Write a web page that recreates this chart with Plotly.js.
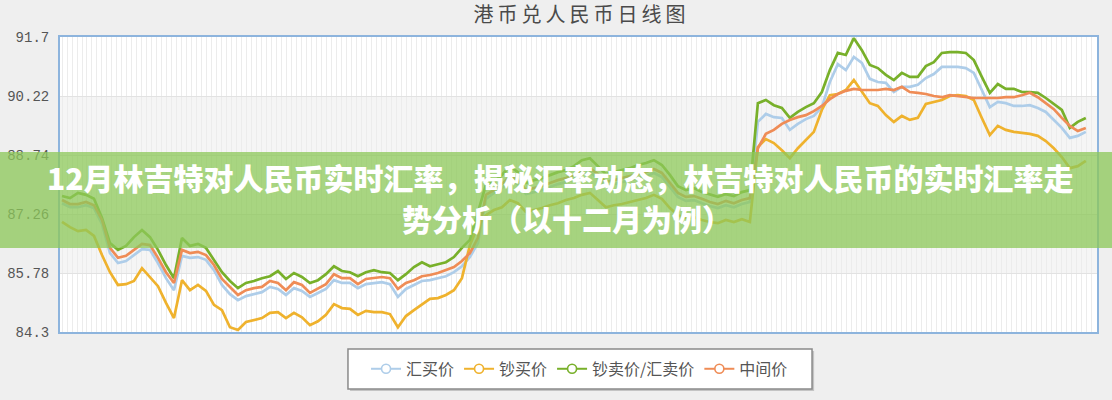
<!DOCTYPE html>
<html>
<head>
<meta charset="utf-8">
<script src="https://cdn.plot.ly/plotly-3.0.1.min.js"></script>
<style>
  html, body { margin: 0; padding: 0; background: #efefef; }
  #chart { width: 1112px; height: 400px; }
  #chart .gtitle { letter-spacing: 4px; }
</style>
</head>
<body>
<div id="chart"></div>
<script>
// ---- data (HKD -> CNY daily, per 100 HKD) ----
const chartTitle = "港币兑人民币日线图";
const seriesNames = ["汇买价", "钞买价", "钞卖价/汇卖价", "中间价"];
const yTicks = [84.3, 85.78, 87.26, 88.74, 90.22, 91.7];
const yTickLabels = ["84.3", "85.78", "87.26", "88.74", "90.22", "91.7"];
const bannerLine1 = "12月林吉特对人民币实时汇率，揭秘汇率动态，林吉特对人民币的实时汇率走";
const bannerLine2 = "势分析（以十二月为例）";

const huiBuy = [
 87.53,87.43,87.43,87.48,87.41,87.01,86.28,86.03,86.08,86.23,
 86.38,86.36,86.03,85.65,85.35,86.21,86.16,86.18,86.11,85.85,
 85.48,85.25,85.10,85.20,85.25,85.30,85.43,85.38,85.23,85.40,
 85.33,85.18,85.28,85.38,85.60,85.53,85.53,85.40,85.50,85.53,
 85.55,85.50,85.18,85.38,85.48,85.58,85.60,85.65,85.70,85.80,
 85.95,86.18,86.53,87.64,87.79,87.91,88.11,88.01,87.76,87.81,
 87.86,87.94,88.01,88.06,88.14,88.26,88.31,88.16,87.96,88.01,
 88.06,88.11,88.16,88.21,88.29,88.19,87.94,87.69,87.59,87.61,
 87.53,87.46,87.41,87.48,87.43,87.51,87.56,89.57,89.77,89.69,
 89.67,89.37,89.52,89.64,89.72,89.94,90.57,91.02,90.87,91.20,
 91.05,90.65,90.57,90.55,90.32,90.45,90.45,90.50,90.67,90.77,
 90.95,90.95,90.95,90.92,90.80,90.37,89.94,90.07,90.04,89.97,
 89.97,89.99,89.92,89.82,89.62,89.42,89.17,89.22,89.32];

const chaoBuy = [
 87.06,86.93,86.83,86.86,86.71,86.23,85.80,85.48,85.50,85.58,
 85.90,85.68,85.45,85.03,84.65,85.60,85.35,85.48,85.33,84.98,
 84.85,84.42,84.35,84.55,84.60,84.65,84.78,84.80,84.65,84.78,
 84.67,84.47,84.57,84.73,85.00,84.90,84.88,84.73,84.83,84.80,
 84.80,84.75,84.42,84.70,84.85,84.98,85.13,85.15,85.23,85.35,
 85.65,86.48,86.96,87.23,87.36,87.43,87.61,87.53,87.31,87.36,
 87.41,87.48,87.53,87.61,87.66,87.74,87.79,87.61,87.43,87.48,
 87.51,87.56,87.61,87.66,87.74,87.64,87.41,87.23,87.16,87.18,
 87.11,87.06,87.03,87.11,87.06,87.13,87.06,88.94,89.14,89.04,
 88.86,88.66,88.91,89.12,89.32,89.87,90.24,90.27,90.37,90.62,
 90.32,90.04,89.97,89.74,89.57,89.72,89.62,89.67,90.02,90.07,
 90.12,90.22,90.24,90.22,90.12,89.67,89.24,89.47,89.37,89.32,
 89.29,89.27,89.22,89.09,88.91,88.69,88.41,88.46,88.59];

const sell = [
 87.71,87.66,87.79,87.74,87.64,87.16,86.53,86.36,86.46,86.68,
 86.86,86.68,86.36,85.98,85.65,86.66,86.46,86.51,86.41,86.11,
 85.80,85.58,85.40,85.53,85.58,85.65,85.70,85.83,85.63,85.78,
 85.68,85.53,85.60,85.75,85.95,85.83,85.80,85.70,85.80,85.85,
 85.80,85.78,85.60,85.75,85.93,86.05,85.95,86.00,86.05,86.18,
 86.41,86.61,87.28,87.99,88.06,88.24,88.46,88.31,88.04,88.11,
 88.16,88.24,88.31,88.36,88.46,88.61,88.66,88.46,88.26,88.31,
 88.36,88.41,88.49,88.54,88.61,88.49,88.24,87.96,87.86,87.91,
 87.81,87.74,87.69,87.76,87.71,87.81,87.86,90.04,90.12,89.99,
 89.92,89.67,89.82,89.94,90.04,90.32,90.87,91.30,91.25,91.67,
 91.37,91.00,90.92,90.75,90.62,90.80,90.70,90.70,90.97,91.07,
 91.30,91.32,91.32,91.30,91.12,90.70,90.30,90.52,90.40,90.40,
 90.32,90.32,90.30,90.17,90.02,89.87,89.42,89.57,89.67];

const middle = [
 87.61,87.51,87.51,87.56,87.48,87.11,86.41,86.16,86.21,86.36,
 86.51,86.48,86.16,85.80,85.53,86.36,86.28,86.31,86.23,85.98,
 85.63,85.43,85.23,85.35,85.40,85.43,85.58,85.53,85.35,85.55,
 85.48,85.28,85.40,85.50,85.75,85.65,85.65,85.50,85.63,85.65,
 85.68,85.65,85.38,85.53,85.60,85.70,85.73,85.78,85.85,85.93,
 86.08,86.28,86.66,87.74,87.86,88.01,88.21,88.11,87.86,87.91,
 87.96,88.04,88.11,88.16,88.24,88.36,88.41,88.26,88.06,88.11,
 88.16,88.21,88.26,88.31,88.39,88.29,88.04,87.79,87.69,87.71,
 87.64,87.56,87.51,87.59,87.53,87.61,87.66,88.91,89.27,89.37,
 89.52,89.62,89.69,89.74,89.84,89.97,90.14,90.27,90.35,90.40,
 90.37,90.37,90.37,90.40,90.37,90.45,90.32,90.30,90.27,90.22,
 90.19,90.24,90.22,90.19,90.17,90.17,90.17,90.17,90.19,90.19,
 90.24,90.30,90.19,90.04,89.89,89.67,89.47,89.34,89.42];

const days = huiBuy.map((_, i) => i);
const seriesData = [huiBuy, chaoBuy, sell, middle];
const colors = ["#aecde9", "#efb22d", "#78b02a", "#ef8c56"];

const traces = [];
seriesData.forEach((ys, k) => {
  traces.push({
    x: days, y: ys, type: "scatter", mode: "lines",
    name: seriesNames[k], showlegend: false, hoverinfo: "skip",
    line: { color: colors[k], width: 2.7 }
  });
});
// legend entries (white-filled markers like the original)
seriesNames.forEach((n, k) => {
  traces.push({
    x: [null], y: [null], type: "scatter", mode: "lines+markers",
    name: n, showlegend: true,
    line: { color: colors[k], width: 2 },
    marker: { symbol: "circle", size: 9, color: "#ffffff", line: { color: colors[k], width: 1.6 } }
  });
});

const bandColor = "#f5f5f5";
const layout = {
  width: 1112, height: 400, autosize: false,
  margin: { l: 60, r: 15, t: 37, b: 68 },
  paper_bgcolor: "#efefef",
  plot_bgcolor: "#ffffff",
  font: { family: "Noto Sans CJK SC, sans-serif", color: "#555" },
  title: {
    text: chartTitle, xref: "paper", x: 0.503, xanchor: "center",
    yref: "container", y: 0.962, yanchor: "middle",
    font: { size: 20, color: "#4a4a4a", family: "Noto Sans CJK SC, sans-serif" }
  },
  xaxis: {
    range: [-0.25, 129.4], showticklabels: false, ticks: "",
    tick0: 0, dtick: 0.625, showgrid: true, gridcolor: "#ececec", gridwidth: 1,
    zeroline: false, showline: true, mirror: true, linecolor: "#8db4dd", linewidth: 2
  },
  yaxis: {
    range: [84.3, 91.7], tickvals: yTicks, ticktext: yTickLabels, ticks: "",
    ticklabelstandoff: 6,
    tickfont: { family: "Liberation Mono, DejaVu Sans Mono, monospace", size: 14, color: "#555" },
    showgrid: true, gridcolor: "#e2e2e2", gridwidth: 1,
    zeroline: false, showline: true, mirror: true, linecolor: "#8db4dd", linewidth: 2
  },
  shapes: [
    { type: "rect", xref: "paper", yref: "y", x0: 0, x1: 1, y0: yTicks[3], y1: yTicks[4],
      fillcolor: bandColor, line: { width: 0 }, layer: "below" },
    { type: "rect", xref: "paper", yref: "y", x0: 0, x1: 1, y0: yTicks[1], y1: yTicks[2],
      fillcolor: bandColor, line: { width: 0 }, layer: "below" },
    // banner overlay
    { type: "rect", xref: "paper", yref: "paper", x0: -0.06, x1: 1.02, y0: 0.285, y1: 0.61,
      fillcolor: "rgba(140,200,90,0.76)", line: { width: 0 }, layer: "above" },
    // legend box shadow + box
    { type: "rect", xref: "paper", yref: "paper", x0: 0.2797, x1: 0.7272, y0: -0.1999, y1: -0.0643,
      fillcolor: "rgba(0,0,0,0.18)", line: { width: 0 }, layer: "above" },
    { type: "rect", xref: "paper", yref: "paper", x0: 0.2777, x1: 0.7252, y0: -0.1932, y1: -0.0576,
      fillcolor: "#ffffff", line: { width: 1.5, color: "#8a8a8a" }, layer: "above" }
  ],
  annotations: [
    { text: bannerLine1, xref: "paper", yref: "paper", x: -0.0145, y: 0.525,
      xanchor: "left", align: "left", yanchor: "middle", showarrow: false,
      font: { size: 30, color: "#ffffff", family: "Noto Sans CJK SC, sans-serif", weight: 900 } },
    { text: bannerLine2, xref: "paper", yref: "paper", x: 0.328, y: 0.385,
      xanchor: "left", align: "left", yanchor: "middle", showarrow: false,
      font: { size: 30, color: "#ffffff", family: "Noto Sans CJK SC, sans-serif", weight: 900 } }
  ],
  legend: {
    orientation: "h", x: 0.501, xanchor: "center", y: -0.125, yanchor: "middle",
    bgcolor: "rgba(0,0,0,0)", borderwidth: 0,
    font: { size: 16, color: "#555", family: "Noto Sans CJK SC, sans-serif" },
    itemwidth: 30
  },
  hovermode: false
};

Plotly.newPlot("chart", traces, layout, { displayModeBar: false, staticPlot: true });
</script>
</body>
</html>
